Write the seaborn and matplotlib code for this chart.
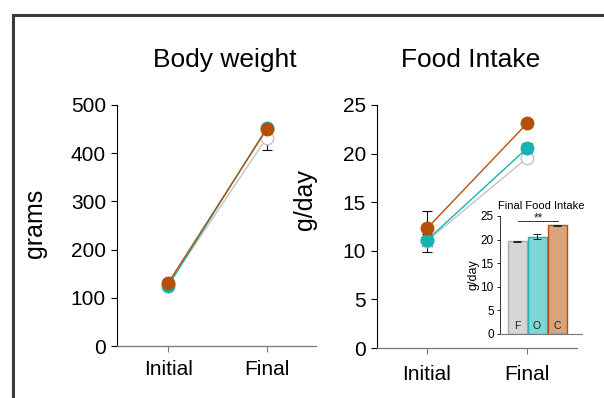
import matplotlib
matplotlib.use('Agg')
import matplotlib.pyplot as plt
import seaborn as sns
import numpy as np
import pandas as pd
from matplotlib.lines import Line2D

# ---------------- data ----------------
groups = ['F', 'O', 'C']
timepoints = ['Initial', 'Final']
bw_initial = [128, 125, 131]
bw_final = [432, 452, 450]
bw_initial_se = [4, 4, 4]
bw_final_se = [25, 8, 5]
fi_initial = [11.0, 11.1, 12.3]
fi_final = [19.55, 20.55, 23.1]
fi_initial_se = [1.1, 0.6, 1.8]
fi_final_se = [0.1, 0.5, 0.1]
final_fi = [19.6, 20.6, 23.0]
final_fi_se = [0.1, 0.5, 0.1]

line_colors = {'F': '#C4C4C4', 'O': '#17B3B1', 'C': '#B5500A'}
face_colors = {'F': 'white', 'O': '#17B3B1', 'C': '#B5500A'}
bar_fill = ['#D6D6D6', '#7DD8D5', '#D9A37B']
bar_edge = ['#A8A8A8', '#22B6B3', '#B5500A']

sns.set_style('ticks')
plt.rcParams['font.family'] = ['Liberation Sans', 'DejaVu Sans']
plt.rcParams['text.color'] = 'black'
plt.rcParams['axes.labelcolor'] = 'black'
plt.rcParams['xtick.color'] = 'black'
plt.rcParams['ytick.color'] = 'black'

fig = plt.figure(figsize=(6.04, 3.98), dpi=100)
W, H = 604.0, 398.0


def px_axes(x0, y0, x1, y1):
    return fig.add_axes([x0 / W, (H - y1) / H, (x1 - x0) / W, (y1 - y0) / H])


def style_main(ax, ylim, yticks):
    ax.set_ylim(*ylim)
    ax.set_yticks(yticks)
    ax.set_xticks([0, 1])
    ax.set_xticklabels(timepoints, fontsize=15)
    ax.tick_params(axis='y', labelsize=15, length=4, width=0.8, pad=4, color='black')
    ax.tick_params(axis='x', length=4, width=0.8, pad=6, color='#777777')
    for s in ['top', 'right']:
        ax.spines[s].set_visible(False)
    ax.spines['left'].set_linewidth(0.8)
    ax.spines['left'].set_color('black')
    ax.spines['bottom'].set_linewidth(0.9)
    ax.spines['bottom'].set_color('#777777')


def draw_lines(ax, init, final, init_se, final_se):
    for i, g in enumerate(groups):
        ax.errorbar([0, 1], [init[i], final[i]], yerr=[init_se[i], final_se[i]],
                    fmt='none', ecolor='#111111', elinewidth=0.8, capsize=3.5,
                    capthick=0.8, zorder=1)
    for i, g in enumerate(groups):
        df = pd.DataFrame({'x': [0, 1], 'y': [init[i], final[i]]})
        sns.lineplot(data=df, x='x', y='y', ax=ax, color=line_colors[g],
                     marker='o', markersize=9, markerfacecolor=face_colors[g],
                     markeredgecolor=line_colors[g], markeredgewidth=1.0,
                     linewidth=1.0, zorder=2 + i)
    ax.set_xlabel('')


# ---------------- Body weight ----------------
ax1 = px_axes(117, 105, 316, 346)
draw_lines(ax1, bw_initial, bw_final, bw_initial_se, bw_final_se)
style_main(ax1, (0, 500), [0, 100, 200, 300, 400, 500])
ax1.set_xlim(-0.52, 1.5)
ax1.set_ylabel('grams', fontsize=18)
ax1.yaxis.set_label_coords((47 - 117) / 199.0, (346 - 223) / 241.0)
fig.text(225 / W, 1 - 60 / H, 'Body weight', fontsize=19, ha='center', va='center')

# ---------------- Food intake ----------------
ax2 = px_axes(377, 105, 577, 348)
draw_lines(ax2, fi_initial, fi_final, fi_initial_se, fi_final_se)
style_main(ax2, (0, 25), [0, 5, 10, 15, 20, 25])
ax2.set_xlim(-0.5, 1.5)
ax2.tick_params(axis='x', pad=8)
ax2.set_ylabel('g/day', fontsize=18)
ax2.yaxis.set_label_coords((317 - 377) / 200.0, (348 - 200) / 243.0)
fig.text(471 / W, 1 - 60 / H, 'Food Intake', fontsize=19, ha='center', va='center')

# ---------------- inset ----------------
ax3 = px_axes(500, 216, 582, 334)
bdf = pd.DataFrame({'group': groups, 'val': final_fi})
sns.barplot(data=bdf, x='group', y='val', hue='group', palette=bar_fill,
            saturation=1, ax=ax3, width=0.95, legend=False, errorbar=None,
            linewidth=1.0, zorder=2)
for i, p in enumerate(ax3.patches):
    p.set_edgecolor(bar_edge[i])
ax3.errorbar(range(3), final_fi, yerr=final_fi_se, fmt='none', ecolor='#222222',
             elinewidth=0.7, capsize=3, capthick=0.7, zorder=5)
ax3.set_xlim(-0.85, 3.25)
ax3.set_ylim(0, 25)
ax3.set_yticks([0, 5, 10, 15, 20, 25])
ax3.set_xticks([])
ax3.set_xlabel('')
ax3.set_ylabel('g/day', fontsize=9, labelpad=1)
ax3.tick_params(axis='y', labelsize=8.5, length=2.5, width=0.6, pad=2)
for s in ['top', 'right']:
    ax3.spines[s].set_visible(False)
ax3.spines['left'].set_linewidth(0.7)
ax3.spines['left'].set_color('#333333')
ax3.spines['bottom'].set_linewidth(0.8)
ax3.spines['bottom'].set_color('#777777')
ax3.set_title('Final Food Intake', fontsize=8, pad=5)
for i, g in enumerate(groups):
    ax3.text(i, 1.6, g, fontsize=7.5, ha='center', va='center', color='#222222')
ax3.plot([0.05, 2.05], [23.9, 23.9], color='#333333', lw=0.7, clip_on=False)
ax3.text(1.05, 23.3, '**', fontsize=8.5, ha='center', va='bottom', color='#222222')

# ---------------- frame ----------------
fc = '#3A3A3A'
fig.add_artist(Line2D([12.5 / W, 12.5 / W], [0, 1 - 14.5 / H], transform=fig.transFigure,
                      color=fc, lw=2.2, solid_capstyle='projecting'))
fig.add_artist(Line2D([12.5 / W, 1.0], [1 - 14.5 / H, 1 - 14.5 / H], transform=fig.transFigure,
                      color=fc, lw=2.2, solid_capstyle='projecting'))

fig.savefig('out.png', dpi=100)
